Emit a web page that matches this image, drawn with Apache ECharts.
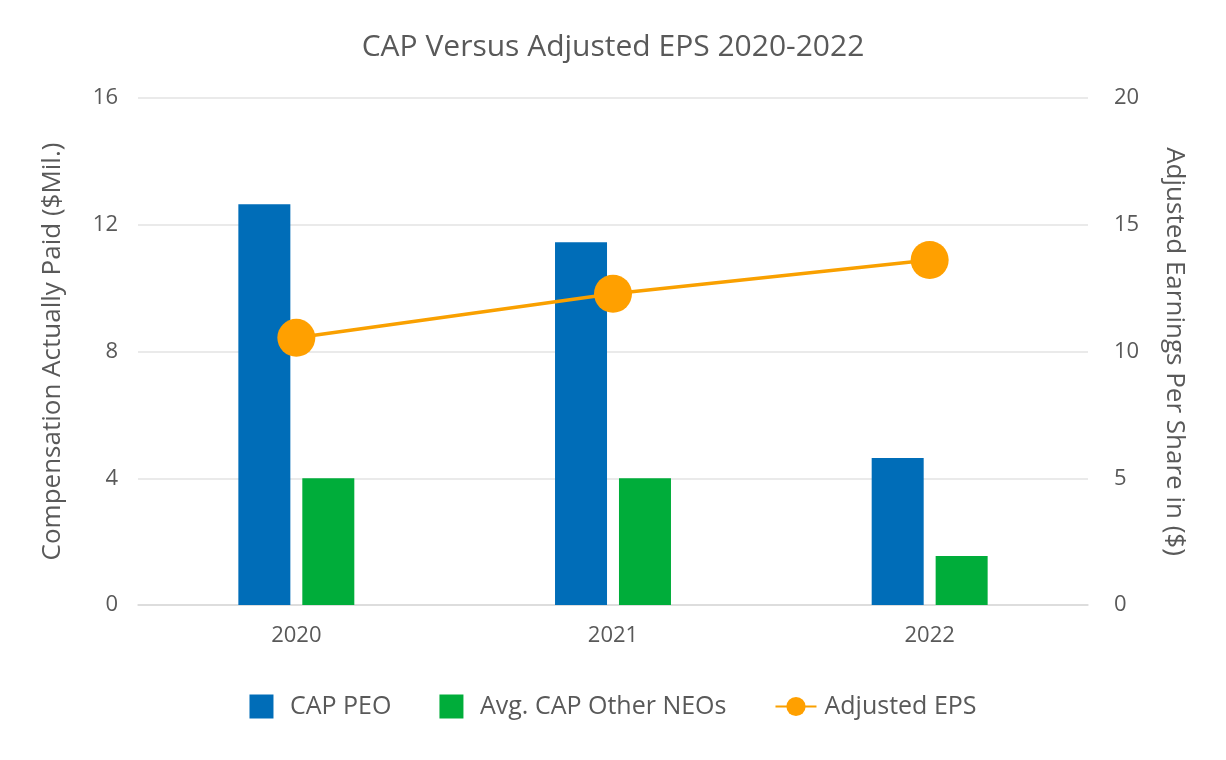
<!DOCTYPE html>
<html><head><meta charset="utf-8">
<script src="https://cdn.jsdelivr.net/npm/echarts@6/dist/echarts.min.js"></script>
<style>html,body{margin:0;padding:0;background:#fff}#c{width:1226px;height:760px}</style>
</head><body><div id="c"></div>
<script>
const categories = ['2020', '2021', '2022'];
const capPeo = [12.65, 11.45, 4.64];
const capOtherNeos = [4.0, 4.0, 1.55];
const adjustedEps = [10.54, 12.28, 13.61];
const leftTicks = {min: 0, max: 16, interval: 4};
const rightTicks = {min: 0, max: 20, interval: 5};

const FONT = '"Open Sans", sans-serif';
const TXT = '#595959';
const SQUARE = 'path://M0,0h10v10h-10z';
const chart = echarts.init(document.getElementById('c'), null, {renderer: 'canvas'});
chart.setOption({
  backgroundColor: '#fff',
  animation: false,
  title: {
    text: 'CAP Versus Adjusted EPS 2020-2022',
    left: 'center', top: 27,
    textStyle: {fontFamily: FONT, fontSize: 30, fontWeight: 'normal', color: TXT}
  },
  legend: {
    bottom: 36, left: 'center', itemGap: 48, itemWidth: 41, itemHeight: 24,
    symbolKeepAspect: true,
    textStyle: {fontFamily: FONT, fontSize: 25, color: TXT, padding: [0, 0, 0, 3]},
    data: [
      {name: 'CAP PEO', icon: SQUARE},
      {name: 'Avg. CAP Other NEOs', icon: SQUARE},
      {name: 'Adjusted EPS'}
    ]
  },
  grid: {left: 138, right: 138, top: 98, bottom: 155},
  xAxis: {
    type: 'category', data: categories,
    axisLine: {show: true, lineStyle: {color: '#d9d9d9', width: 1.5}},
    axisTick: {show: false},
    axisLabel: {fontFamily: FONT, fontSize: 22, color: TXT, margin: 20}
  },
  yAxis: [
    {
      type: 'value', min: leftTicks.min, max: leftTicks.max, interval: leftTicks.interval,
      name: 'Compensation Actually Paid ($Mil.)', nameLocation: 'middle', nameGap: 72, nameRotate: 90,
      nameTextStyle: {fontFamily: FONT, fontSize: 26, color: TXT},
      axisLine: {show: false}, axisTick: {show: false},
      axisLabel: {fontFamily: FONT, fontSize: 22, color: TXT, margin: 20},
      splitLine: {lineStyle: {color: '#e3e3e3', width: 1.5}}
    },
    {
      type: 'value', min: rightTicks.min, max: rightTicks.max, interval: rightTicks.interval,
      name: 'Adjusted Earnings Per Share in ($)', nameLocation: 'middle', nameGap: 73, nameRotate: -90,
      nameTextStyle: {fontFamily: FONT, fontSize: 26, color: TXT},
      axisLine: {show: false}, axisTick: {show: false},
      axisLabel: {fontFamily: FONT, fontSize: 22, color: TXT, margin: 26},
      splitLine: {show: false}
    }
  ],
  series: [
    {
      name: 'CAP PEO', type: 'bar', data: capPeo, yAxisIndex: 0,
      barWidth: 52, barGap: '23%',
      itemStyle: {color: '#006db8'}
    },
    {
      name: 'Avg. CAP Other NEOs', type: 'bar', data: capOtherNeos, yAxisIndex: 0,
      barWidth: 52,
      itemStyle: {color: '#00ad3a'}
    },
    {
      name: 'Adjusted EPS', type: 'line', data: adjustedEps, yAxisIndex: 1,
      symbol: 'circle', symbolSize: 38,
      lineStyle: {color: '#f9a000', width: 3.5},
      itemStyle: {color: '#ffa000'}
    }
  ]
});
</script></body></html>
